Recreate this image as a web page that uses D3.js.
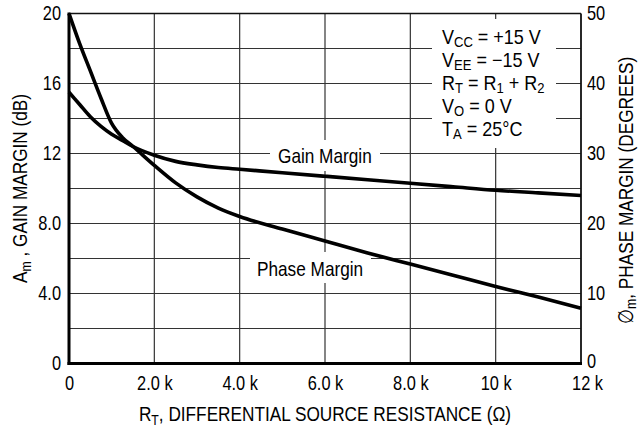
<!DOCTYPE html>
<html>
<head>
<meta charset="utf-8">
<script src="https://cdn.jsdelivr.net/npm/d3@7"></script>
<style>
  html, body { margin: 0; padding: 0; background: #fff; }
  svg { display: block; }
</style>
</head>
<body>
<svg id="chart" width="639" height="430"></svg>
<script>
// ---------- data ----------
const resistanceK = [0, 0.25, 0.5, 0.75, 1.0, 1.25, 1.5, 2.0, 2.5, 3.0, 3.5, 4.0, 5.0, 6.0, 7.0, 8.0, 9.0, 10.0, 11.0, 12.0];
const gainMarginDb = [15.5, 14.8, 14.1, 13.55, 13.1, 12.75, 12.4, 11.9, 11.55, 11.35, 11.2, 11.1, 10.9, 10.7, 10.5, 10.3, 10.1, 9.9, 9.75, 9.6];
const phaseMarginDeg = [50, 45.7, 41.8, 37.9, 34.3, 32.3, 31.0, 28.3, 25.8, 23.8, 22.2, 21.0, 19.2, 17.5, 15.8, 14.2, 12.6, 11.0, 9.5, 7.9];

const xTickValues = [0, 2, 4, 6, 8, 10, 12];
const xTickLabels = ["0", "2.0 k", "4.0 k", "6.0 k", "8.0 k", "10 k", "12 k"];
const leftTickValues = [0, 4, 8, 12, 16, 20];
const leftTickLabels = ["0", "4.0", "8.0", "12", "16", "20"];
const rightTickValues = [0, 10, 20, 30, 40, 50];
const rightTickLabels = ["0", "10", "20", "30", "40", "50"];
const gridX = [2, 4, 6, 8, 10];
const gridY = [2, 4, 6, 8, 10, 12, 14, 16, 18];

const conditionLines = [
  [["V", ""], ["CC", "sub"], [" = +15 V", ""]],
  [["V", ""], ["EE", "sub"], [" = \u221215 V", ""]],
  [["R", ""], ["T", "sub"], [" = R", ""], ["1", "sub"], [" + R", ""], ["2", "sub"]],
  [["V", ""], ["O", "sub"], [" = 0 V", ""]],
  [["T", ""], ["A", "sub"], [" = 25\u00B0C", ""]]
];
const xTitle = [["R", ""], ["T", "sub"], [", DIFFERENTIAL SOURCE RESISTANCE (\u03A9)", ""]];
const leftTitle = [["A", ""], ["m", "sub"], [" , GAIN MARGIN (dB)", ""]];
const rightTitle = [["\u2205", ""], ["m", "sub"], [", PHASE MARGIN (DEGREES)", ""]];

// ---------- font (condensed look via horizontal scaling) ----------
const FONT = "'Liberation Sans', Arial, Helvetica, sans-serif";
function condense(sel, sq = 0.82) {
  sel.each(function () {
    const t = d3.select(this);
    const x = parseFloat(t.attr("x")) || 0;
    t.attr("x", x / sq);
    const dx = t.attr("dx");
    if (dx != null && dx !== "") t.attr("dx", parseFloat(dx) / sq);
    const tr = t.attr("transform") || "";
    t.attr("transform", (tr + ` scale(${sq},1)`).trim());
  });
}

// ---------- layout ----------
const svg = d3.select("#chart");
const L = 69, R = 581, T = 13.5, B = 363.5;

const x = d3.scaleLinear().domain([0, 12]).range([L, R]);
const yL = d3.scaleLinear().domain([0, 20]).range([B, T]);
const yR = d3.scaleLinear().domain([0, 50]).range([B, T]);

svg.append("rect").attr("width", 639).attr("height", 430).attr("fill", "#fff");

// grid
const grid = svg.append("g").attr("stroke", "#333").attr("stroke-width", 1.2);
grid.selectAll("line.gx").data(gridX).join("line")
  .attr("x1", d => x(d)).attr("x2", d => x(d)).attr("y1", T).attr("y2", B);
grid.selectAll("line.gy").data(gridY).join("line")
  .attr("x1", L).attr("x2", R).attr("y1", d => yL(d)).attr("y2", d => yL(d));

// white label boxes over grid
const boxes = [
  {x0: 432, y0: 19, x1: 556, y1: 148},
  {x0: 270, y0: 140, x1: 380, y1: 171},
  {x0: 250, y0: 252, x1: 371, y1: 283}
];
svg.selectAll("rect.box").data(boxes).join("rect")
  .attr("x", d => d.x0).attr("y", d => d.y0)
  .attr("width", d => d.x1 - d.x0).attr("height", d => d.y1 - d.y0)
  .attr("fill", "#fff");

// frame
svg.append("line").attr("x1", L).attr("x2", R).attr("y1", T).attr("y2", T).attr("stroke", "#111").attr("stroke-width", 1.6);
svg.append("line").attr("x1", R).attr("x2", R).attr("y1", T).attr("y2", B).attr("stroke", "#111").attr("stroke-width", 1.8);
svg.append("line").attr("x1", L).attr("x2", L).attr("y1", T - 1).attr("y2", B + 1.5).attr("stroke", "#000").attr("stroke-width", 3);
svg.append("line").attr("x1", L - 1.5).attr("x2", R + 1).attr("y1", B).attr("y2", B).attr("stroke", "#000").attr("stroke-width", 3);

// curves
const gainData = resistanceK.map((k, i) => [k, gainMarginDb[i]]);
const phaseData = resistanceK.map((k, i) => [k, phaseMarginDeg[i]]);
const lineL = d3.line().x(d => x(d[0])).y(d => yL(d[1])).curve(d3.curveMonotoneX);
const lineR = d3.line().x(d => x(d[0])).y(d => yR(d[1])).curve(d3.curveMonotoneX);
svg.append("path").datum(gainData).attr("d", lineL)
  .attr("fill", "none").attr("stroke", "#000").attr("stroke-width", 3.6).attr("stroke-linejoin", "round");
svg.append("path").datum(phaseData).attr("d", lineR)
  .attr("fill", "none").attr("stroke", "#000").attr("stroke-width", 3.6).attr("stroke-linejoin", "round");

// axes
function styleAxis(g, size) {
  g.select(".domain").remove();
  g.selectAll(".tick line").remove();
  g.attr("font-family", FONT).attr("font-size", size);
  g.selectAll("text").attr("fill", "#000");
}
svg.append("g").attr("transform", `translate(${L},0)`)
  .call(d3.axisLeft(yL).tickValues(leftTickValues).tickSize(0).tickPadding(8)
    .tickFormat((d, i) => leftTickLabels[i]))
  .call(g => styleAxis(g, 20))
  .call(g => condense(g.selectAll(".tick text")));
svg.append("g").attr("transform", `translate(${R},0)`)
  .call(d3.axisRight(yR).tickValues(rightTickValues).tickSize(0).tickPadding(6)
    .tickFormat((d, i) => rightTickLabels[i]))
  .call(g => styleAxis(g, 20))
  .call(g => g.selectAll(".tick text").attr("dy", (d, i) => i === 0 ? "0.22em" : "0.32em"))
  .call(g => condense(g.selectAll(".tick text")));
svg.append("g").attr("transform", `translate(0,${B})`)
  .call(d3.axisBottom(x).tickValues(xTickValues).tickSize(0).tickPadding(12)
    .tickFormat((d, i) => xTickLabels[i]))
  .call(g => styleAxis(g, 20))
  .call(g => g.selectAll(".tick text").attr("dx", (d, i) => i === xTickValues.length - 1 ? 6 : 0))
  .call(g => condense(g.selectAll(".tick text")));

// rich text helper (subscripts)
function rich(sel, parts, size, subSize, subShift, sq = 0.82) {
  let lastSub = false;
  parts.forEach(([t, kind]) => {
    if (kind === "sub") {
      sel.append("tspan").attr("font-size", subSize).attr("dy", lastSub ? 0 : subShift).text(t);
      lastSub = true;
    } else {
      sel.append("tspan").attr("font-size", size).attr("dy", lastSub ? -subShift : 0).text(t);
      lastSub = false;
    }
  });
  condense(sel, sq);
  return sel;
}

// conditions legend
const cond = svg.append("g").attr("font-family", FONT).attr("fill", "#000");
conditionLines.forEach((parts, i) => {
  const t = cond.append("text").attr("x", 442).attr("y", 44 + i * 23);
  rich(t, parts, 20, 14.5, 3.5, 0.9);
});

// curve labels
condense(svg.append("text").attr("x", 278).attr("y", 163).attr("font-family", FONT).attr("font-size", 21).text("Gain Margin"));
condense(svg.append("text").attr("x", 257).attr("y", 276.5).attr("font-family", FONT).attr("font-size", 21).text("Phase Margin"));

// axis titles
const xt = svg.append("text").attr("x", (L + R) / 2).attr("y", 421).attr("text-anchor", "middle").attr("font-family", FONT);
rich(xt, xTitle, 21, 15, 4);

const lt = svg.append("text").attr("transform", `translate(27,${(T + B) / 2}) rotate(-90)`).attr("text-anchor", "middle").attr("font-family", FONT);
rich(lt, leftTitle, 21, 15, 4);

const rt = svg.append("text").attr("transform", `translate(633,${(T + B) / 2 + 2}) rotate(-90)`).attr("text-anchor", "middle").attr("font-family", FONT);
rich(rt, rightTitle, 21, 15, 3);
</script>
</body>
</html>
